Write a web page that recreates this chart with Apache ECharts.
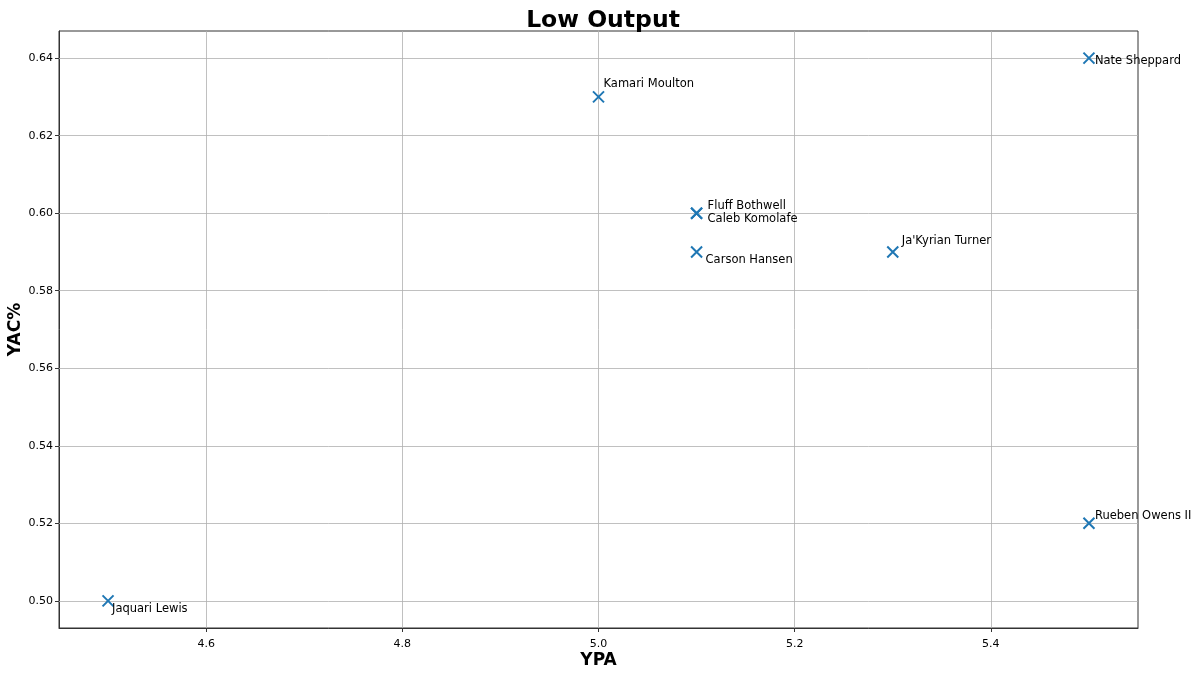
<!DOCTYPE html>
<html>
<head>
<meta charset="utf-8">
<script src="https://cdn.jsdelivr.net/npm/echarts@6/dist/echarts.min.js"></script>
<style>html,body{margin:0;padding:0;background:#fff;}#chart{width:1200px;height:675px;}</style>
</head>
<body>
<div id="chart"></div>
<script>
const players = ["Kamari Moulton", "Nate Sheppard", "Fluff Bothwell", "Caleb Komolafe", "Carson Hansen", "Ja'Kyrian Turner", "Rueben Owens II", "Jaquari Lewis"];
const ypa = [5.0, 5.5, 5.1, 5.1, 5.1, 5.3, 5.5, 4.5];
const yacPct = [0.63, 0.64, 0.60, 0.60, 0.59, 0.59, 0.52, 0.50];
const xTicks = [4.6, 4.8, 5.0, 5.2, 5.4];
const yTicks = [0.50, 0.52, 0.54, 0.56, 0.58, 0.60, 0.62, 0.64];
// label offsets in pixels (text placement, like adjustText)
const labelOffsets = [[5, -13], [6, 3], [11, -7], [11, 6], [9, 8], [9, -11], [6, -7], [4, 8]];

const FONT = "DejaVu Sans";
const chart = echarts.init(document.getElementById('chart'), null, {renderer: 'canvas'});

const data = players.map((p, i) => ({
  name: p,
  value: [ypa[i], yacPct[i]],
  label: {
    show: true,
    formatter: p,
    position: 'inside',
    align: 'left',
    verticalAlign: 'middle',
    offset: labelOffsets[i],
    color: '#000',
    fontFamily: FONT,
    fontSize: 11.5
  }
}));

const gridLineStyle = {color: '#b0b0b0', width: 0.8, type: 'solid', opacity: 1};
const markData = xTicks.map(v => ({xAxis: v})).concat(yTicks.map(v => ({yAxis: v})));

chart.setOption({
  animation: false,
  backgroundColor: '#fff',
  title: {
    text: 'Low Output',
    left: 598, textAlign: 'center', top: 4,
    textStyle: {fontFamily: FONT, fontSize: 23.5, fontWeight: 'bold', color: '#000'}
  },
  grid: {left: 59, right: 62, top: 31, bottom: 47, containLabel: false, outerBoundsMode: 'none', show: true, borderColor: '#333', borderWidth: 1, backgroundColor: 'transparent'},
  xAxis: {
    type: 'value', min: 4.45, max: 5.55,
    name: 'YPA', nameLocation: 'middle', nameGap: 24, nameMoveOverlap: false,
    nameTextStyle: {fontFamily: FONT, fontSize: 17, fontWeight: 'bold', color: '#000'},
    axisLine: {show: true, lineStyle: {color: '#333', width: 1}},
    axisTick: {show: true, length: 4, lineStyle: {color: '#333'}, customValues: xTicks},
    axisLabel: {customValues: xTicks, formatter: v => v.toFixed(1), fontFamily: FONT, fontSize: 11, color: '#000', margin: 11},
    splitLine: {show: false}
  },
  yAxis: {
    type: 'value', min: 0.493, max: 0.647,
    name: 'YAC%', nameLocation: 'middle', nameGap: 35, nameRotate: 90, nameMoveOverlap: false,
    nameTextStyle: {fontFamily: FONT, fontSize: 17, fontWeight: 'bold', color: '#000'},
    axisLine: {show: true, lineStyle: {color: '#333', width: 1}},
    axisTick: {show: true, length: 4, lineStyle: {color: '#333'}, customValues: yTicks},
    axisLabel: {customValues: yTicks, formatter: v => v.toFixed(2), fontFamily: FONT, fontSize: 11, color: '#000', margin: 6},
    splitLine: {show: false}
  },
  series: [{
    type: 'scatter',
    symbol: 'path://M0,0L10,10M10,0L0,10',
    symbolSize: 11,
    itemStyle: {color: 'rgba(0,0,0,0)', borderColor: '#1f77b4', borderWidth: 2, opacity: 1},
    data: data,
    z: 3,
    markLine: {
      silent: true,
      symbol: ['none', 'none'],
      label: {show: false},
      lineStyle: gridLineStyle,
      emphasis: {disabled: true},
      animation: false,
      z: 1,
      data: markData
    }
  }]
});
</script>
</body>
</html>
